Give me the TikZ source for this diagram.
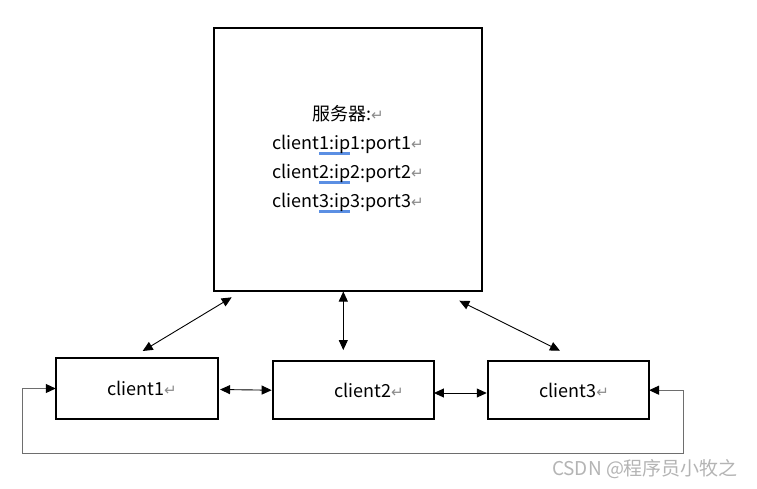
\documentclass[tikz,border=0pt]{standalone}
\usepackage{fontspec}
\setmainfont{Noto Sans CJK SC}
\newfontfamily\retfont{DejaVu Sans}
\usetikzlibrary{arrows.meta}

\definecolor{retgray}{HTML}{8C8C8C}
\definecolor{ulblue}{HTML}{5B8FE3}
\definecolor{loopgray}{HTML}{6E6E6E}
\definecolor{markgray}{HTML}{B4B4B4}

\newcommand{\ret}{{\retfont\fontsize{15}{15}\selectfont\textcolor{retgray}{↵}}}
\newcommand{\spellul}[1]{{\setbox0\hbox{#1}\rlap{\textcolor{ulblue}{\rule[-5.8pt]{\wd0}{2.6pt}}}\box0}}

\begin{document}
\begin{tikzpicture}[x=1pt, y=-1pt, font=\fontsize{18}{29}\selectfont,
    box/.style={draw, line width=2pt, inner sep=0pt, outer sep=0pt},
    biarrow/.style={{Triangle[length=10pt,width=9pt]}-{Triangle[length=10pt,width=9pt]}, line width=0.9pt},
    looparrow/.style={{Triangle[length=10pt,width=9pt,color=black]}-{Triangle[length=10pt,width=9pt,color=black]}, draw=loopgray, line width=1.1pt}]
    \fill[white] (0,0) rectangle (757,488);
    \useasboundingbox (0,0) rectangle (757,488);

    % server and clients
    \node[box, minimum width=268pt, minimum height=263pt, align=center] (server) at (348,159) {
        服务器:\ret\\
        client\spellul{1:ip}1:port1\ret\\
        client\spellul{2:ip}2:port2\ret\\
        client\spellul{3:ip}3:port3\ret
    };
    \node[box, minimum width=162.3pt, minimum height=61.6pt, label={[xshift=5pt]center:client1\ret}] (client1) at (136.9,388.5) {};
    \node[box, minimum width=161.3pt, minimum height=58.3pt, label={[xshift=15.5pt]center:client2\ret}] (client2) at (353.3,390.2) {};
    \node[box, minimum width=160.7pt, minimum height=58.3pt, label={[xshift=5.5pt]center:client3\ret}] (client3) at (568.7,390.2) {};

    % links to the server
    \draw[biarrow] ([xshift=17.7pt,yshift=-6.8pt]server.south west) -- ([xshift=5.8pt,yshift=6.7pt]client1.north);
    \draw[biarrow] ([xshift=-4.7pt,yshift=-1pt]server.south) -- ([xshift=-10pt,yshift=11pt]client2.north);
    \draw[biarrow] ([xshift=-22.7pt,yshift=-10.2pt]server.south east) -- ([xshift=-8.7pt,yshift=10.3pt]client3.north);

    % links between clients
    \draw[biarrow] ([xshift=2pt,yshift=-1pt]client1.east) -- ([xshift=-1pt]client2.west);
    \draw[biarrow] ([yshift=-2.8pt]client2.east) -- ([xshift=-1.6pt,yshift=-2.8pt]client3.west);

    % ring back round
    \coordinate (loopL) at (22.7,453.3);
    \coordinate (loopR) at (683.3,453.3);
    \draw[looparrow] (client1.west) -- (client1.west -| loopL) -- (loopL) -- (loopR) -- (client3.east -| loopR) -- (client3.east);

    \node[text=markgray, font=\fontsize{19}{19}\selectfont] (mark) at (645,469) {CSDN @程序员小牧之};
\end{tikzpicture}
\end{document}
